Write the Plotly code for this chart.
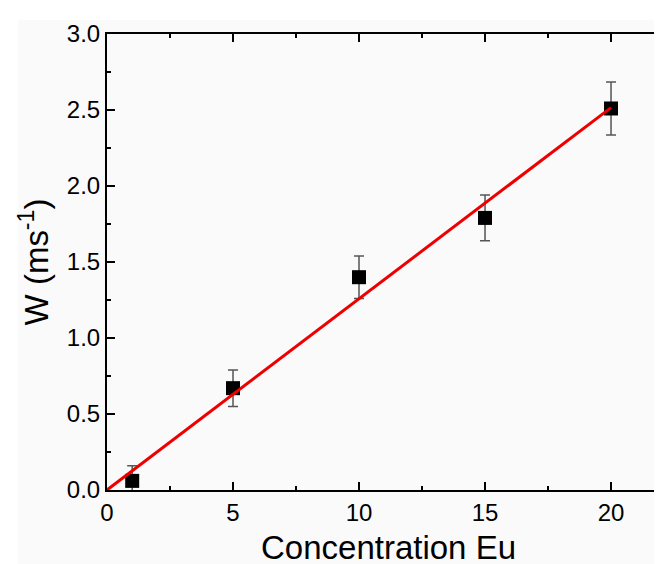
import plotly.graph_objects as go

# data
conc = [1, 5, 10, 15, 20]
w_rate = [0.06, 0.67, 1.40, 1.79, 2.51]
w_err = [0.10, 0.12, 0.14, 0.15, 0.175]
fit_x = [0, 20]
fit_y = [0, 2.516]

x_title = "Concentration Eu"
y_title = "W (ms<sup>-1</sup>)"

FONT = "Liberation Sans, Arial, sans-serif"
BG = "#fafafa"

fig = go.Figure()
fig.add_trace(go.Scatter(
    x=conc, y=w_rate, mode="markers",
    marker=dict(symbol="square", size=14, color="black", line=dict(width=0)),
    error_y=dict(type="data", array=w_err, visible=True, color="#555555",
                 thickness=1.5, width=5),
    showlegend=False,
))
fig.add_trace(go.Scatter(
    x=fit_x, y=fit_y, mode="lines",
    line=dict(color="#ee0000", width=3), showlegend=False,
))

axis_common = dict(
    showgrid=False, zeroline=False, ticks="inside", ticklen=8, tickwidth=1.5,
    tickcolor="black", linecolor="black", linewidth=2, showline=True,
    automargin=False,
    tickfont=dict(family=FONT, size=24, color="black"),
)

fig.update_layout(
    width=662, height=564,
    margin=dict(l=99, r=0, t=26, b=82),
    paper_bgcolor=BG, plot_bgcolor=BG,
    font=dict(family=FONT, color="black"),
    xaxis=dict(
        range=[0, 22.34], dtick=5, tick0=0, mirror="ticks",
        minor=dict(ticks="inside", ticklen=4, tickwidth=1.5, dtick=2.5, tickcolor="black"),
        title=dict(text=x_title, font=dict(family=FONT, size=33), standoff=11),
        **axis_common,
    ),
    yaxis=dict(
        range=[0, 3], dtick=0.5, tick0=0, tickformat=".1f", mirror=False,
        minor=dict(ticks="inside", ticklen=4, tickwidth=1.5, dtick=0.25, tickcolor="black"),
        title=dict(text=y_title, font=dict(family=FONT, size=33), standoff=8),
        **axis_common,
    ),
    yaxis2=dict(
        overlaying="y", side="right", anchor="x", range=[0, 3], dtick=0.5,
        showgrid=False, zeroline=False, showline=False, showticklabels=False,
        automargin=False,
        ticks="inside", ticklen=8, tickwidth=1.5, tickcolor="black",
        minor=dict(ticks="inside", ticklen=4, tickwidth=1.5, dtick=0.25, tickcolor="black"),
    ),
    shapes=[
        dict(type="rect", xref="paper", yref="paper", x0=-0.2, x1=1.01,
             y0=(482 - 12) / 456, y1=1.1, fillcolor="white", line=dict(width=0), layer="below"),
        dict(type="rect", xref="paper", yref="paper", x0=-0.2, x1=(10 - 99) / 563,
             y0=-0.2, y1=1.1, fillcolor="white", line=dict(width=0), layer="below"),
    ],
)

fig.write_html("out.html")
